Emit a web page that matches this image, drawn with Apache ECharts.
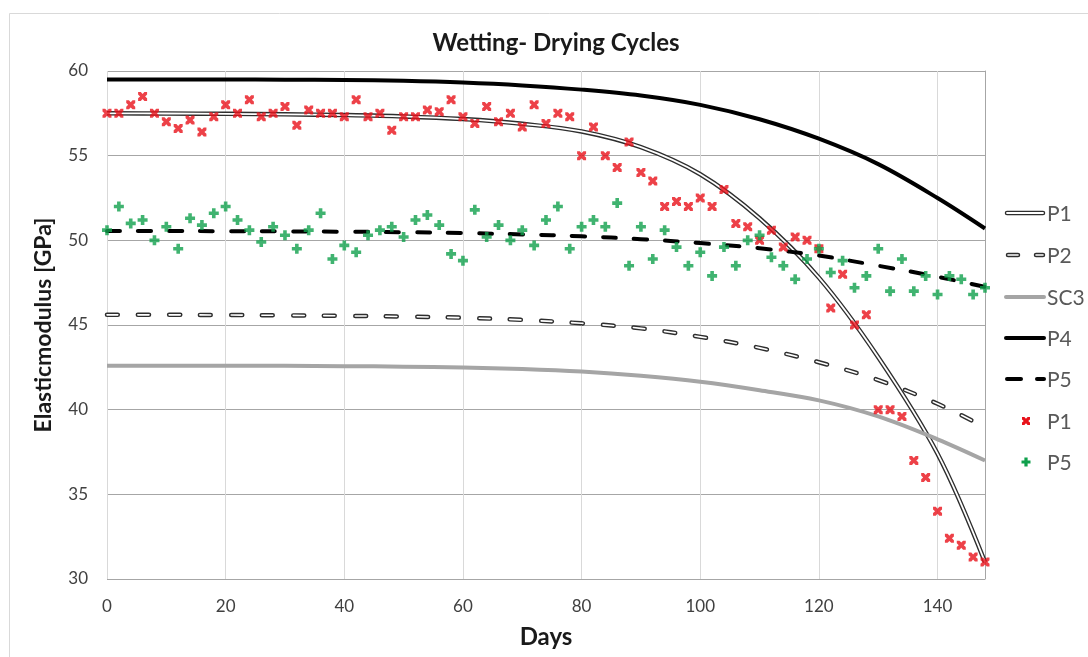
<!DOCTYPE html>
<html>
<head>
<meta charset="utf-8">
<script src="https://cdn.jsdelivr.net/npm/echarts@6/dist/echarts.min.js"></script>
<style>
  html, body { margin: 0; padding: 0; background: #ffffff; }
  #chart { width: 1088px; height: 657px; }
</style>
</head>
<body>
<div id="chart"></div>
<script>
// Fitted curves, sampled along the day axis
const curveDays = [0, 10, 20, 30, 40, 50, 60, 70, 80, 90, 100, 110, 120, 130, 140, 148];
const curveP1  = [57.5, 57.49, 57.47, 57.44, 57.4, 57.32, 57.16, 56.88, 56.43, 55.5, 53.9, 51.3, 47.8, 43.1, 37.4, 31.0];
const curveP2  = [45.6, 45.6, 45.59, 45.57, 45.54, 45.5, 45.43, 45.3, 45.1, 44.8, 44.3, 43.65, 42.8, 41.75, 40.35, 38.95];
const curveSC3 = [42.6, 42.6, 42.6, 42.59, 42.57, 42.54, 42.49, 42.4, 42.25, 42.0, 41.65, 41.15, 40.55, 39.6, 38.25, 37.0];
const curveP4  = [59.5, 59.5, 59.5, 59.49, 59.47, 59.42, 59.32, 59.15, 58.9, 58.55, 58.0, 57.15, 56.0, 54.5, 52.5, 50.7];
const curveP5  = [50.55, 50.55, 50.54, 50.53, 50.51, 50.48, 50.43, 50.35, 50.24, 50.07, 49.84, 49.53, 49.1, 48.5, 47.85, 47.25];

// Measured values, one reading every 2 days
const measureDays = [0, 2, 4, 6, 8, 10, 12, 14, 16, 18, 20, 22, 24, 26, 28, 30, 32, 34, 36, 38,
  40, 42, 44, 46, 48, 50, 52, 54, 56, 58, 60, 62, 64, 66, 68, 70, 72, 74, 76, 78,
  80, 82, 84, 86, 88, 90, 92, 94, 96, 98, 100, 102, 104, 106, 108, 110, 112, 114, 116, 118,
  120, 122, 124, 126, 128, 130, 132, 134, 136, 138, 140, 142, 144, 146, 148];
const measuredP1 = [57.5, 57.5, 58.0, 58.5, 57.5, 57.0, 56.6, 57.1, 56.4, 57.3, 58.0, 57.5, 58.3, 57.3, 57.5, 57.9, 56.8, 57.7, 57.5, 57.5,
  57.3, 58.3, 57.3, 57.5, 56.5, 57.3, 57.3, 57.7, 57.6, 58.3, 57.3, 56.9, 57.9, 57.0, 57.5, 56.7, 58.0, 56.9, 57.5, 57.3,
  55.0, 56.7, 55.0, 54.3, 55.8, 54.0, 53.5, 52.0, 52.3, 52.0, 52.5, 52.0, 53.0, 51.0, 50.8, 50.0, 50.6, 49.6, 50.2, 50.0,
  49.5, 46.0, 48.0, 45.0, 45.6, 40.0, 40.0, 39.6, 37.0, 36.0, 34.0, 32.4, 32.0, 31.3, 31.0];
const measuredP5 = [50.6, 52.0, 51.0, 51.2, 50.0, 50.8, 49.5, 51.3, 50.9, 51.6, 52.0, 51.2, 50.6, 49.9, 50.8, 50.3, 49.5, 50.6, 51.6, 48.9,
  49.7, 49.3, 50.3, 50.6, 50.8, 50.2, 51.2, 51.5, 50.9, 49.2, 48.8, 51.8, 50.2, 50.9, 50.0, 50.6, 49.7, 51.2, 52.0, 49.5,
  50.8, 51.2, 50.8, 52.2, 48.5, 50.8, 48.9, 50.6, 49.6, 48.5, 49.3, 47.9, 49.6, 48.5, 50.0, 50.3, 49.0, 48.5, 47.7, 48.9,
  49.5, 48.1, 48.8, 47.2, 47.9, 49.5, 47.0, 48.9, 47.0, 47.9, 46.8, 47.9, 47.7, 46.8, 47.2];

const xTicks = { min: 0, max: 148, interval: 20 };
const yTicks = { min: 30, max: 60, interval: 5 };

const FONT = 'Lato, "Open Sans", sans-serif';
const RED = '#e8121a';
const GREEN = '#10a04c';
// marker outlines on a 10x10 box
const CROSS_PTS = [[0,0],[3,0],[5,2.2],[7,0],[10,0],[10,3],[7.8,5],[10,7],[10,10],[7,10],[5,7.8],[3,10],[0,10],[0,7],[2.2,5],[0,3]];
const PLUS_PTS = [[3.2,0],[6.8,0],[6.8,3.2],[10,3.2],[10,6.8],[6.8,6.8],[6.8,10],[3.2,10],[3.2,6.8],[0,6.8],[0,3.2],[3.2,3.2]];
const toPath = pts => 'path://M' + pts.map(p => p[0] + ',' + p[1]).join('L') + 'Z';
const CROSS = toPath(CROSS_PTS);
const PLUS = toPath(PLUS_PTS);

const pairs = (xs, ys) => xs.map((x, i) => [x, ys[i]]);

function lineSeries(name, ys, style) {
  return {
    name: name,
    type: 'line',
    data: pairs(curveDays, ys),
    smooth: 0.35,
    showSymbol: false,
    symbol: 'none',
    silent: true,
    lineStyle: style
  };
}

// Legend drawn by hand so the outlined line styles can be shown
const LX1 = 1005, LX2 = 1045, LT = 1047;
const legendRows = [213, 255, 297, 338, 379, 421, 462];
const legendNames = ['P1', 'P2', 'SC3', 'P4', 'P5', 'P1', 'P5'];
const g = [];
function seg(x1, x2, y, color, w) {
  g.push({ type: 'line', shape: { x1: x1, y1: y, x2: x2, y2: y }, style: { stroke: color, lineWidth: w, lineCap: 'round' }, z: 10 });
}
function marker(pts, cx, cy, size, color) {
  const s = size / 10;
  g.push({ type: 'polygon', shape: { points: pts.map(p => [cx - size / 2 + p[0] * s, cy - size / 2 + p[1] * s]) }, style: { fill: color }, z: 10 });
}
// P1: outlined solid
seg(LX1 + 2, LX2 - 2, legendRows[0], '#2e2e2e', 4.5);
seg(LX1 + 2, LX2 - 2, legendRows[0], '#ffffff', 1.8);
// P2: outlined dashes
seg(1008, 1018, legendRows[1], '#2e2e2e', 4.5);
seg(1008, 1018, legendRows[1], '#ffffff', 1.6);
seg(1036, 1043, legendRows[1], '#2e2e2e', 4.5);
seg(1036, 1043, legendRows[1], '#ffffff', 1.6);
// SC3
seg(LX1 + 1, LX2 - 1, legendRows[2], '#a5a5a5', 4);
// P4
seg(LX1 + 1, LX2 - 1, legendRows[3], '#000000', 4);
// P5 dashes
seg(1007, 1021, legendRows[4], '#000000', 4);
seg(1037, 1044, legendRows[4], '#000000', 4);
// marker keys
marker(CROSS_PTS, 1026, legendRows[5], 8, RED);
marker(PLUS_PTS, 1026, legendRows[6], 9, GREEN);
legendNames.forEach((n, i) => {
  g.push({ type: 'text', x: LT, y: legendRows[i] + 1, style: { text: n, font: '21px ' + FONT, fill: '#595959', verticalAlign: 'middle' }, z: 10 });
});
// outer chart frame (its right edge runs past the page)
g.push({ type: 'rect', shape: { x: 9.5, y: 13.5, width: 1200, height: 700 }, style: { fill: 'none', stroke: '#d9d9d9', lineWidth: 1 }, z: 0 });

const chart = echarts.init(document.getElementById('chart'), null, { renderer: 'canvas' });
chart.setOption({
  animation: false,
  backgroundColor: '#ffffff',
  title: {
    text: 'Wetting- Drying Cycles',
    left: 551,
    top: 26,
    textAlign: 'center',
    textStyle: { fontFamily: FONT, fontWeight: 'bold', fontSize: 24, color: '#1a1a1a' }
  },
  grid: { left: 107, right: 103, top: 71, bottom: 78, containLabel: false },
  xAxis: {
    type: 'value',
    min: xTicks.min, max: xTicks.max, interval: xTicks.interval,
    name: 'Days',
    nameLocation: 'middle',
    nameGap: 46,
    nameTextStyle: { fontFamily: FONT, fontWeight: 'bold', fontSize: 24, color: '#1a1a1a' },
    axisLine: { show: false },
    axisTick: { show: false },
    axisLabel: { fontFamily: FONT, fontSize: 17, color: '#404040', margin: 19, showMaxLabel: false },
    splitLine: { show: true, lineStyle: { color: '#d9d9d9', width: 1 } }
  },
  yAxis: [{
    type: 'value',
    min: yTicks.min, max: yTicks.max, interval: yTicks.interval,
    name: 'Elasticmodulus [GPa]',
    nameLocation: 'middle',
    nameGap: 52,
    nameTextStyle: { fontFamily: FONT, fontWeight: 'bold', fontSize: 23, color: '#1a1a1a' },
    axisLine: { show: false },
    axisTick: { show: false },
    axisLabel: { fontFamily: FONT, fontSize: 17, color: '#404040', margin: 19 },
    splitLine: { show: true, lineStyle: { color: '#a6a6a6', width: 1 } }
  }, {
    type: 'value',
    position: 'right',
    min: yTicks.min, max: yTicks.max, interval: yTicks.interval,
    axisLine: { show: true, lineStyle: { color: '#a6a6a6', width: 1 } },
    axisTick: { show: false },
    axisLabel: { show: false },
    splitLine: { show: false }
  }],
  graphic: g,
  series: [
    lineSeries('P1', curveP1, { color: '#2e2e2e', width: 4.5 }),
    lineSeries('P1 core', curveP1, { color: '#ffffff', width: 1.8 }),
    lineSeries('P2', curveP2, { color: '#2e2e2e', width: 4.5, type: [11, 20], cap: 'round' }),
    lineSeries('P2 core', curveP2, { color: '#ffffff', width: 1.6, type: [11, 20], cap: 'round' }),
    lineSeries('SC3', curveSC3, { color: '#a5a5a5', width: 4 }),
    lineSeries('P4', curveP4, { color: '#000000', width: 4 }),
    lineSeries('P5', curveP5, { color: '#000000', width: 4, type: [13, 18], cap: 'round' }),
    {
      name: 'P1', type: 'scatter', data: pairs(measureDays, measuredP1),
      symbol: CROSS, symbolSize: 9, itemStyle: { color: RED }, z: 5, silent: true
    },
    {
      name: 'P5', type: 'scatter', data: pairs(measureDays, measuredP5),
      symbol: PLUS, symbolSize: 10, itemStyle: { color: GREEN }, z: 5, silent: true
    }
  ]
});
</script>
</body>
</html>
